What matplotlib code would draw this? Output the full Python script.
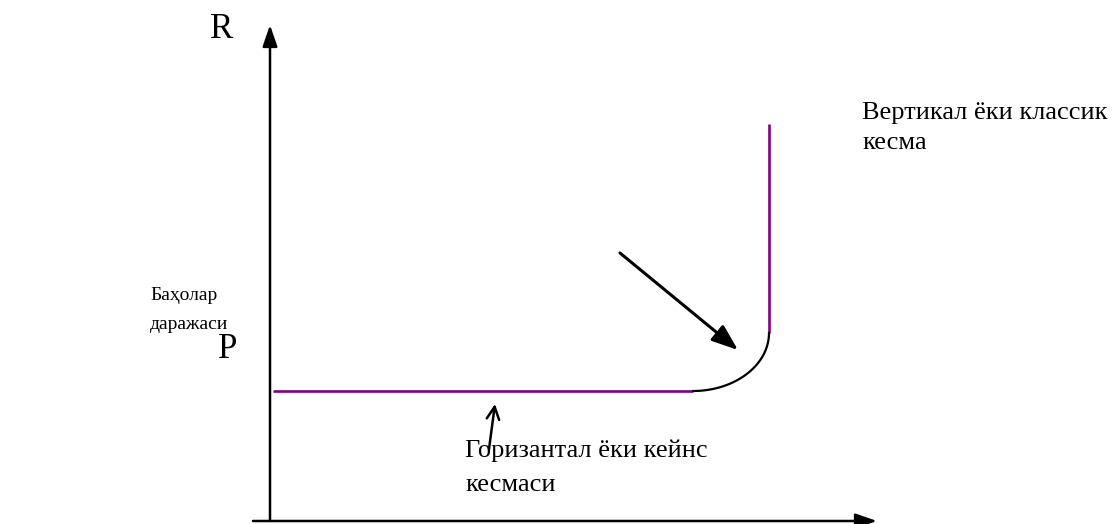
import matplotlib
matplotlib.use("Agg")
import matplotlib.pyplot as plt
import numpy as np

# ── Datos del esquema (origen en el cruce de los ejes) ───────────────────────
AXIS_X = [-17, 607]          # eje horizontal: desde, hasta (punta)
AXIS_Y = [0, 496]            # eje vertical: desde, hasta (punta)

KEYNES_X = [3, 423]          # tramo horizontal (Keynes)
KEYNES_Y = [130, 130]

CLASSIC_X = [499, 499]       # tramo vertical (clásico)
CLASSIC_Y = [188, 397]

CURVE_CENTER = [423, 188]    # tramo intermedio: cuarto de elipse
CURVE_RADII = [76, 58]

BIG_ARROW = [[350, 268], [468, 171]]     # (desde, hasta)
SMALL_ARROW = [[219, 72], [225, 117]]

PURPLE = "#800080"
SERIF = ["Liberation Serif", "DejaVu Serif"]

# ── Figura ───────────────────────────────────────────────────────────────────
fig = plt.figure(figsize=(11.14, 5.24), dpi=100)
ax = fig.add_axes([0, 0, 1, 1])
ax.set_xlim(-270, 844)
ax.set_ylim(-3, 521)
ax.axis("off")

# ejes con flecha rellena
ax.annotate("", xy=(AXIS_X[1], 0), xytext=(AXIS_X[0], 0),
            arrowprops=dict(arrowstyle="-|>,head_length=1.3,head_width=0.45",
                            color="black", lw=1.8, shrinkA=0, shrinkB=0))
ax.annotate("", xy=(0, AXIS_Y[1]), xytext=(0, AXIS_Y[0]),
            arrowprops=dict(arrowstyle="-|>,head_length=1.3,head_width=0.45",
                            color="black", lw=1.8, shrinkA=0, shrinkB=0))

# tramos de la curva de oferta
ax.plot(KEYNES_X, KEYNES_Y, color=PURPLE, lw=1.9, solid_capstyle="butt")
ax.plot(CLASSIC_X, CLASSIC_Y, color=PURPLE, lw=1.9, solid_capstyle="butt")

t = np.linspace(0, -np.pi / 2, 60)
ax.plot(CURVE_CENTER[0] + CURVE_RADII[0] * np.cos(t),
        CURVE_CENTER[1] + CURVE_RADII[1] * np.sin(t),
        color="black", lw=1.6)

# flechas explicativas
ax.annotate("", xy=BIG_ARROW[1], xytext=BIG_ARROW[0],
            arrowprops=dict(arrowstyle="-|>,head_length=1.6,head_width=0.6",
                            color="black", lw=2.2, shrinkA=0, shrinkB=0))
ax.annotate("", xy=SMALL_ARROW[1], xytext=SMALL_ARROW[0],
            arrowprops=dict(arrowstyle="->,head_length=0.9,head_width=0.45",
                            color="black", lw=1.8, shrinkA=0, shrinkB=0))

# textos
ax.text(-48, 491, "R", fontsize=25, family=SERIF, ha="center", va="center")
ax.text(-42, 171, "P", fontsize=25, family=SERIF, ha="center", va="center")
ax.text(-120, 211, "Баҳолар\nдаражаси", fontsize=14, family=SERIF,
        ha="left", va="center", linespacing=1.95)
ax.text(592, 393, "Вертикал ёки классик\nкесма", fontsize=19, family=SERIF,
        ha="left", va="center", linespacing=1.45)
ax.text(195, 53, "Горизантал ёки кейнс\nкесмаси", fontsize=19, family=SERIF,
        ha="left", va="center", linespacing=1.7)

fig.savefig("out.png", dpi=100)
